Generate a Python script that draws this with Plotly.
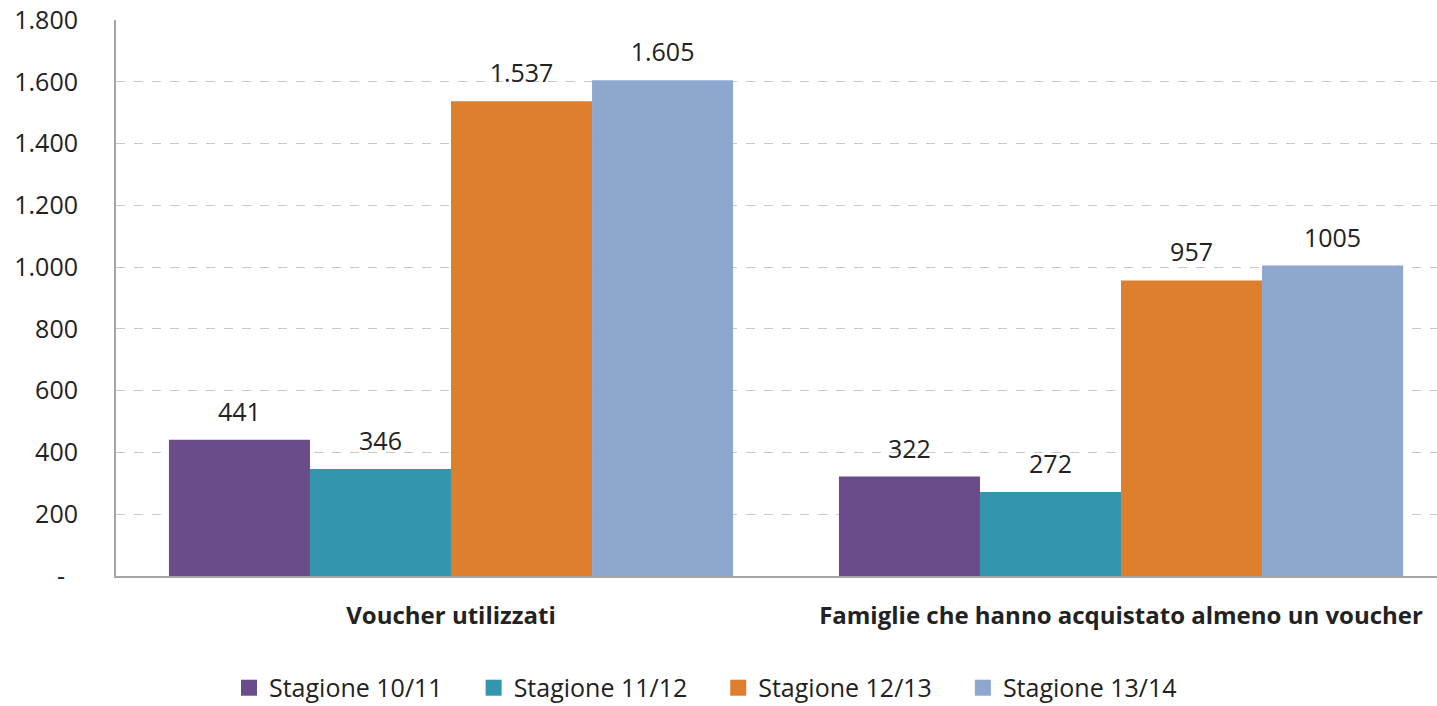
import plotly.graph_objects as go

categories = ["Voucher utilizzati", "Famiglie che hanno acquistato almeno un voucher"]
series_names = ["Stagione 10/11", "Stagione 11/12", "Stagione 12/13", "Stagione 13/14"]
values = [
    [441, 322],
    [346, 272],
    [1537, 957],
    [1605, 1005],
]
labels = [
    ["441", "322"],
    ["346", "272"],
    ["1.537", "957"],
    ["1.605", "1005"],
]
colors = ["#6A4C8A", "#3396AE", "#DD7F2C", "#8EA7CF"]
tick_vals = [0, 200, 400, 600, 800, 1000, 1200, 1400, 1600, 1800]
tick_text = ["-  ", "200", "400", "600", "800", "1.000", "1.200", "1.400", "1.600", "1.800"]

FONT = "Open Sans, Liberation Sans, sans-serif"
TXT = "#222222"

fig = go.Figure()
for name, vals, txt, col in zip(series_names, values, labels, colors):
    fig.add_trace(go.Bar(
        x=[0, 1], y=vals, name=name, showlegend=False,
        marker=dict(color=col, line=dict(width=0)),
        text=["<span style='font-size:25px'>" + t + "</span><br> " for t in txt],
        textposition="outside", cliponaxis=False, constraintext="none",
        textfont=dict(size=10, color=TXT, family=FONT),
        hoverinfo="skip",
    ))
# legend entries with larger square swatches
for name, col in zip(series_names, colors):
    fig.add_trace(go.Scatter(
        x=[None], y=[None], mode="markers", name=name + "\u00a0\u00a0\u00a0\u00a0",
        marker=dict(symbol="square", size=16, color=col),
    ))

fig.update_layout(
    width=1437, height=706,
    barmode="group", bargap=0.158, bargroupgap=0,
    plot_bgcolor="white", paper_bgcolor="white",
    margin=dict(l=116, r=0, t=20, b=130, autoexpand=False),
    font=dict(family=FONT, size=25, color=TXT),
    legend=dict(orientation="h", xref="container", x=0.5, xanchor="center",
                y=-0.16, yanchor="top",
                font=dict(size=25, family=FONT, color=TXT),
                itemwidth=30, traceorder="normal"),
    xaxis=dict(
        range=[-0.5, 1.4716], tickvals=[0, 1],
        ticktext=["<b>" + c + "</b>" for c in categories],
        showline=True, linecolor="#A6A6A6", linewidth=2,
        ticks="outside", ticklen=17, tickcolor="rgba(0,0,0,0)",
        tickfont=dict(size=24, family=FONT, color=TXT),
        showgrid=False, zeroline=False, fixedrange=True, automargin=False,
    ),
    yaxis=dict(
        range=[0, 1800], tickvals=tick_vals, ticktext=tick_text,
        showline=True, linecolor="#A6A6A6", linewidth=2,
        showgrid=True, gridcolor="#C8C8C8", griddash="dash", gridwidth=1.3,
        ticks="outside", ticklen=31, tickcolor="rgba(0,0,0,0)",
        tickfont=dict(size=25, family=FONT, color=TXT),
        zeroline=False, automargin=False, fixedrange=True,
    ),
)
fig.write_html("out.html", config={"displayModeBar": False},
               post_script="document.body.style.margin='0';document.body.style.overflow='hidden';")
